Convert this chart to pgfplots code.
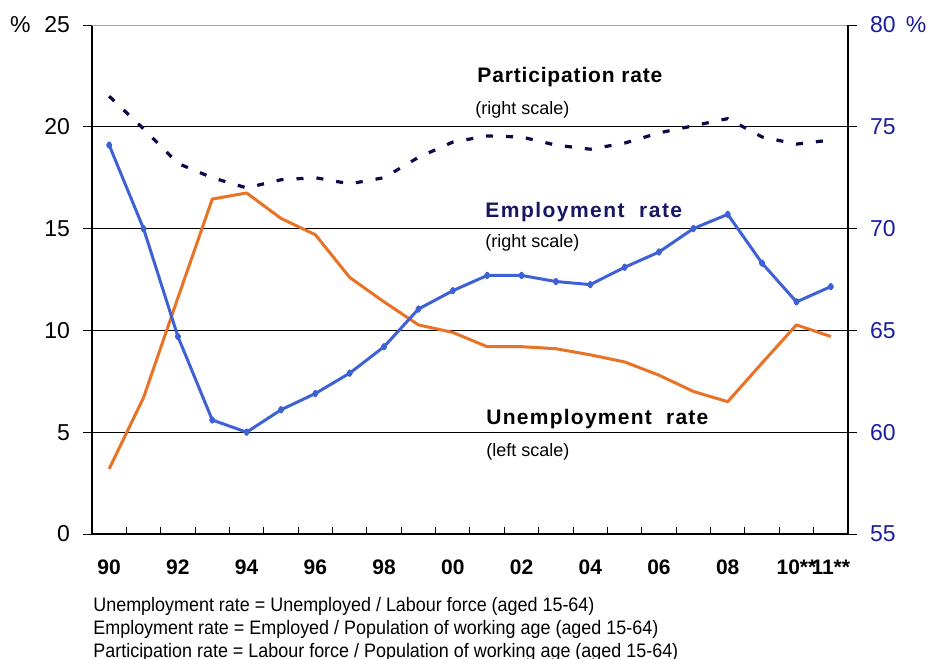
\documentclass[border=0pt]{standalone}
\usepackage{pgfplots}
\pgfplotsset{compat=1.18}
\usepackage{pgfplotstable}
\usepackage{graphicx}
\usepackage{fontspec}
\setmainfont{Liberation Sans}

\definecolor{unemp}{RGB}{232,114,37}
\definecolor{emp}{RGB}{62,98,214}
\definecolor{part}{RGB}{10,10,75}
\definecolor{emplabel}{RGB}{22,22,100}
\definecolor{rtick}{RGB}{28,28,160}

% year index (0 = 1990), unemployment (left scale), employment and participation (right scale)
\pgfplotstableread{
idx unemp emp part
0  3.2   74.1  76.5
1  6.7   70.0  74.9
2  11.6  64.7  73.2
3  16.45 60.6  72.5
4  16.75 60.0  72.0
5  15.5  61.1  72.4
6  14.7  61.9  72.5
7  12.6  62.9  72.2
8  11.4  64.2  72.5
9  10.27 66.05 73.5
10 9.9   66.95 74.25
11 9.2   67.7  74.55
12 9.2   67.7  74.5
13 9.1   67.4  74.1
14 8.8   67.25 73.9
15 8.45  68.1  74.2
16 7.8   68.85 74.7
17 7.0   70.0  75.05
18 6.5   70.7  75.4
19 8.4   68.3  74.5
20 10.27 66.4  74.15
21 9.7   67.15 74.35
}\rates

\pgfplotsset{
  base/.style={
    at={(0,0)}, anchor=south west,
    scale only axis, width=378pt, height=254.5pt,
    xmin=-0.5, xmax=21.5,
    tick align=outside, major tick length=4.5pt,
    axis line style={line width=0.6pt},
    every tick/.style={black, line width=0.5pt},
  },
}

\begin{document}
\begin{tikzpicture}
\path[use as bounding box] (-46pt,-62.5pt) rectangle (417.5pt,267pt);

% left scale: unemployment rate
\begin{axis}[base,
  axis x line*=bottom, axis y line*=left,
  ymin=0, ymax=25,
  ytick={0,5,10,15,20,25},
  yticklabels={0,5,10,15,20,{\%\hspace{0.6em}25}},
  ymajorgrids, grid style={black, line width=0.5pt},
  xtick={0,2,4,6,8,10,12,14,16,18,20,21},
  xticklabels={90,92,94,96,98,00,02,04,06,08,10**,11**},
  major x tick style={draw=none},
  minor xtick={0.5,1.5,2.5,3.5,4.5,5.5,6.5,7.5,8.5,9.5,10.5,11.5,12.5,13.5,14.5,15.5,16.5,17.5,18.5,19.5,20.5},
  minor tick length=3.5pt,
  minor x tick style={yshift=3.5pt},
  yticklabel style={font=\fontsize{11.5}{13}\selectfont, anchor=east, xshift=-3pt},
  xticklabel style={font=\fontsize{10.5}{12}\selectfont\bfseries, anchor=center, yshift=-12pt},
]
\addplot[unemp, line width=1.5pt, line join=round] table[x=idx, y=unemp] {\rates};
\draw[gray!70, line width=0.6pt] (rel axis cs:0,1) -- (rel axis cs:1,1);
\end{axis}

% right scale: employment and participation rates
\begin{axis}[base,
  axis x line=none, axis y line*=right,
  ymin=55, ymax=80,
  ytick={55,60,65,70,75,80},
  yticklabels={55,60,65,70,75,{80\hspace{0.45em}\%}},
  yticklabel style={font=\fontsize{11.5}{13}\selectfont, text=rtick, anchor=west, xshift=3pt},
]
\addplot[emp, line width=1.5pt, line join=round, mark=diamond*, mark size=1.1pt,
  mark options={solid, fill=emp}] table[x=idx, y=emp] {\rates};
\addplot[part, line width=1.6pt, dash pattern=on 3.5pt off 6.5pt] table[x=idx, y=part] {\rates};
\end{axis}

% series labels
\begin{scope}[every node/.style={inner sep=0pt}]
\node[anchor=base west, font=\fontsize{10.5}{12}\selectfont\bfseries\addfontfeature{LetterSpace=4}]
  at (192.5pt,225.5pt) {Participation rate};
\node[anchor=west, font=\fontsize{9}{11}\selectfont] at (191.5pt,212pt) {(right scale)};
\node[anchor=base west, text=emplabel, font=\fontsize{10.5}{12}\selectfont\bfseries\addfontfeature{LetterSpace=7}]
  at (196.5pt,158pt) {Employment\ \ rate};
\node[anchor=west, font=\fontsize{9}{11}\selectfont] at (196.5pt,145.5pt) {(right scale)};
\node[anchor=base west, font=\fontsize{10.5}{12}\selectfont\bfseries\addfontfeature{LetterSpace=6}]
  at (197pt,54.5pt) {Unemployment\ \ rate};
\node[anchor=west, font=\fontsize{9}{11}\selectfont] at (197pt,41pt) {(left scale)};

% definitions below the chart
\node[anchor=base west, font=\fontsize{9.75}{11}\selectfont] at (0.5pt,-38.5pt)
  {\scalebox{0.92}[1]{Unemployment rate = Unemployed / Labour force (aged 15-64)}};
\node[anchor=base west, font=\fontsize{9.75}{11}\selectfont] at (0.5pt,-50pt)
  {\scalebox{0.92}[1]{Employment rate = Employed / Population of working age (aged 15-64)}};
\node[anchor=base west, font=\fontsize{9.75}{11}\selectfont] at (0.5pt,-61.5pt)
  {\scalebox{0.92}[1]{Participation rate = Labour force / Population of working age (aged 15-64)}};
\end{scope}
\end{tikzpicture}
\end{document}
